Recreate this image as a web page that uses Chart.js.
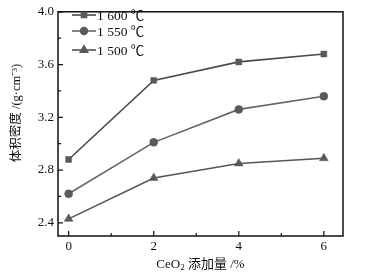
<!DOCTYPE html>
<html>
<head>
<meta charset="utf-8">
<script src="https://cdn.jsdelivr.net/npm/chart.js@4.4.0/dist/chart.umd.min.js"></script>
<style>
  html, body { margin: 0; padding: 0; background: #fff; }
  #wrap { width: 379px; height: 276px; }
</style>
</head>
<body>
<div id="wrap"><canvas id="mycanvas1"></canvas></div>
<script>
// CeO2 addition (%)
var ceo2 = [0, 2, 4, 6];
// bulk density (g/cm3) at each sintering temperature
var d1600 = [2.88, 3.48, 3.62, 3.68];
var d1550 = [2.62, 3.01, 3.26, 3.36];
var d1500 = [2.43, 2.74, 2.85, 2.89];
var seriesNames = ["1 600 \u2103", "1 550 \u2103", "1 500 \u2103"];
var xTicks = [0, 2, 4, 6];
var yTicks = [2.4, 2.8, 3.2, 3.6, 4.0];
var yTitle = '\u4f53\u79ef\u5bc6\u5ea6 /(g\u00b7cm\u207b\u00b3)';

var serif = "'Liberation Serif', 'Times New Roman', 'Noto Sans CJK SC', serif";

function pts(ys) {
	var out = [];
	for (var i in ceo2) out.push({x: ceo2[i], y: ys[i]});
	return out;
}

// frame, inward ticks, axis titles and the in-plot legend
var framePlugin = {
	id: 'frame',
	afterDraw: function(chart) {
		var ctx = chart.ctx, a = chart.chartArea;
		var xs = chart.scales.x, ys = chart.scales.y;
		ctx.save();
		ctx.strokeStyle = '#111';
		ctx.lineWidth = 1.5;
		ctx.strokeRect(a.left, a.top, a.right - a.left, a.bottom - a.top);
		ctx.lineWidth = 1.2;
		ctx.beginPath();
		for (var v = 0; v <= 6; v++) {
			var px = xs.getPixelForValue(v);
			var len = (v % 2 === 0) ? 5 : 3;
			ctx.moveTo(px, a.bottom);
			ctx.lineTo(px, a.bottom - len);
		}
		for (var k = 0; k <= 8; k++) {
			var val = 2.4 + k * 0.2;
			var py = ys.getPixelForValue(val);
			var l2 = (k % 2 === 0) ? 5 : 3;
			ctx.moveTo(a.left, py);
			ctx.lineTo(a.left + l2, py);
		}
		ctx.stroke();

		// axis titles
		ctx.fillStyle = '#111';
		ctx.textBaseline = 'middle';
		ctx.font = '12.5px ' + serif;
		ctx.save();
		ctx.translate(17, 113);
		ctx.rotate(-Math.PI / 2);
		ctx.textAlign = 'center';
		ctx.fillText(yTitle, 0, 0);
		ctx.restore();

		var parts = [['CeO', 13, 0], ['2', 9, 3], [' \u6dfb\u52a0\u91cf /%', 13, 0]];
		var total = 0;
		parts.forEach(function(p) { ctx.font = p[1] + 'px ' + serif; total += ctx.measureText(p[0]).width; });
		var tx = (a.left + a.right) / 2 - total / 2;
		ctx.textAlign = 'left';
		parts.forEach(function(p) {
			ctx.font = p[1] + 'px ' + serif;
			ctx.fillText(p[0], tx, 265 + p[2]);
			tx += ctx.measureText(p[0]).width;
		});

		// legend
		var rows = [15, 31, 50];
		ctx.font = '13.5px ' + serif;
		chart.data.datasets.forEach(function(ds, i) {
			var y = rows[i];
			ctx.strokeStyle = ds.borderColor;
			ctx.lineWidth = 1.6;
			ctx.beginPath();
			ctx.moveTo(72, y);
			ctx.lineTo(96, y);
			ctx.stroke();
			ctx.fillStyle = '#5a5a5a';
			ctx.strokeStyle = '#5a5a5a';
			Chart.helpers.drawPoint(ctx, {
				pointStyle: ds.pointStyle,
				radius: ds.pointRadius * 0.85,
				borderWidth: 1
			}, 84, y);
			ctx.fillStyle = '#111';
			ctx.fillText(seriesNames[i], 97, y + 1);
		});
		ctx.restore();
	}
};

var mk = function(label, ys, style, radius, color) {
	return {
		label: label,
		data: pts(ys),
		borderColor: color,
		backgroundColor: '#5a5a5a',
		pointBackgroundColor: '#5a5a5a',
		pointBorderColor: '#5a5a5a',
		pointStyle: style,
		pointRadius: radius,
		pointBorderWidth: 0.5,
		borderWidth: 1.6,
		fill: false,
		tension: 0
	};
};

var chartdata = {
	datasets: [
		mk(seriesNames[0], d1600, 'rect', 4.2, '#4a4a4a'),
		mk(seriesNames[1], d1550, 'circle', 4, '#666'),
		mk(seriesNames[2], d1500, 'triangle', 5, '#555')
	]
};

var ctx = document.getElementById('mycanvas1');
var LineGraph = new Chart(ctx, {
	type: 'line',
	data: chartdata,
	plugins: [framePlugin],
	options: {
		responsive: true,
		maintainAspectRatio: false,
		animation: false,
		devicePixelRatio: 1,
		layout: { padding: { top: 5, right: 36, left: 0, bottom: 0 } },
		plugins: { legend: { display: false }, tooltip: { enabled: false } },
		scales: {
			x: {
				type: 'linear',
				min: -0.25,
				max: 6.45,
				grid: { display: false, drawTicks: false },
				border: { display: false },
				afterBuildTicks: function(s) { s.ticks = xTicks.map(function(v) { return {value: v}; }); },
				afterFit: function(s) { s.height = 40; },
				ticks: {
					color: '#111',
					padding: 3,
					maxRotation: 0,
					font: { family: serif, size: 13 },
					callback: function(v) { return String(v); }
				}
			},
			y: {
				min: 2.3,
				max: 4.0,
				grid: { display: false, drawTicks: false },
				border: { display: false },
				afterBuildTicks: function(s) { s.ticks = yTicks.map(function(v) { return {value: v}; }); },
				afterFit: function(s) { s.width = 58; },
				ticks: {
					color: '#111',
					padding: 4,
					font: { family: serif, size: 13 },
					callback: function(v) { return v.toFixed(1); }
				}
			}
		}
	}
});
</script>
</body>
</html>
